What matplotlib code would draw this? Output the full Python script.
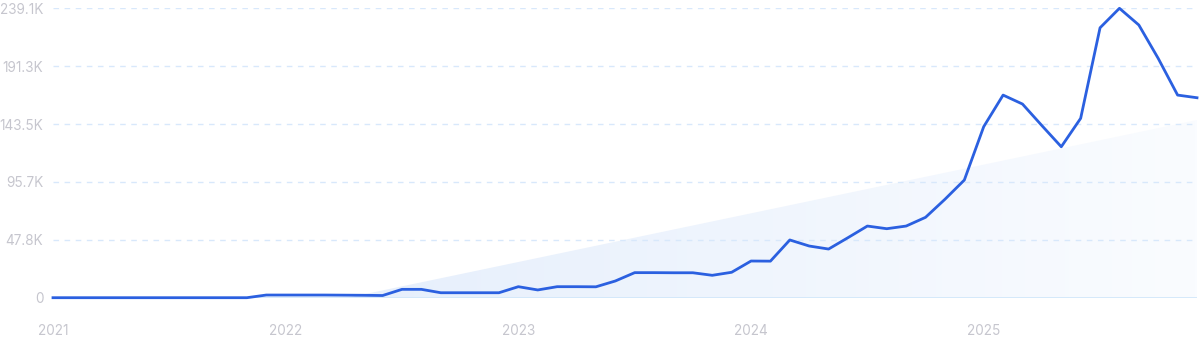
import numpy as np
import matplotlib
matplotlib.use("Agg")
import matplotlib.pyplot as plt
from matplotlib.patches import Polygon

# monthly values, Jan 2021 .. Dec 2025
months = np.arange(60)
values = [
    0, 0, 0, 0, 0, 0, 0, 0, 0, 0, 0, 2200,
    2200, 2200, 2200, 2100, 2000, 1800, 6900, 6900, 4100, 4100, 4100, 4100,
    9100, 6400, 9100, 9100, 9000, 13800, 20700, 20700, 20600, 20600, 18500, 21000,
    30300, 30200, 47700, 42700, 40200, 49600, 59200, 57000, 59200, 66400, 81300, 97200,
    141300, 167400, 160000, 142200, 124700, 148200, 223000, 239100, 225300, 197700, 167400, 165200,
]
year_labels = ["2021", "2022", "2023", "2024", "2025"]
year_pos = [0, 12, 24, 36, 48]
y_ticks = [0, 47820, 95640, 143460, 191280, 239100]
y_labels = ["0", "47.8K", "95.7K", "143.5K", "191.3K", "239.1K"]
# trend line end points (month index, value)
trend_x = [15.2, 59]
trend_y = [0, 146800]

line_color = "#2b60e0"
grid_color = "#d8e8fb"
text_color = "#c6c6ce"

plt.rcParams["font.family"] = ["Inter", "DejaVu Sans"]

fig = plt.figure(figsize=(12, 3.43), dpi=100)
ax = fig.add_axes([53 / 1200, 45.3 / 343, 1144 / 1200, 289.4 / 343])
ax.set_xlim(0, 59)
ax.set_ylim(0, 239100)

# gradient trend area
poly = Polygon([(trend_x[0], trend_y[0]), (trend_x[1], trend_y[1]), (trend_x[1], 0)],
               closed=True, facecolor="none", edgecolor="none")
ax.add_patch(poly)
grad = np.linspace(0, 1, 256).reshape(1, -1)
cmap = matplotlib.colors.LinearSegmentedColormap.from_list("g", ["#e6effc", "#fafcff"])
im = ax.imshow(grad, extent=[trend_x[0], trend_x[1], 0, trend_y[1]], aspect="auto",
               cmap=cmap, origin="lower", zorder=1)
im.set_clip_path(poly)

for t in y_ticks[1:]:
    ax.axhline(t, color=grid_color, lw=1, ls=(0, (4, 4)), zorder=2)
ax.axhline(0, color="#cfe6fa", lw=1.2, zorder=2)

ax.plot(months, values, color=line_color, lw=2.0, zorder=3, clip_on=False,
        solid_joinstyle="round")

for s in ax.spines.values():
    s.set_visible(False)
ax.set_yticks(y_ticks)
ax.set_yticklabels(y_labels)
ax.set_xticks(year_pos)
ax.set_xticklabels(year_labels)
ax.tick_params(axis="both", length=0, colors=text_color, labelsize=9.8)
ax.tick_params(axis="y", pad=7)
ax.tick_params(axis="x", pad=19)

fig.savefig("out.png", dpi=100)
